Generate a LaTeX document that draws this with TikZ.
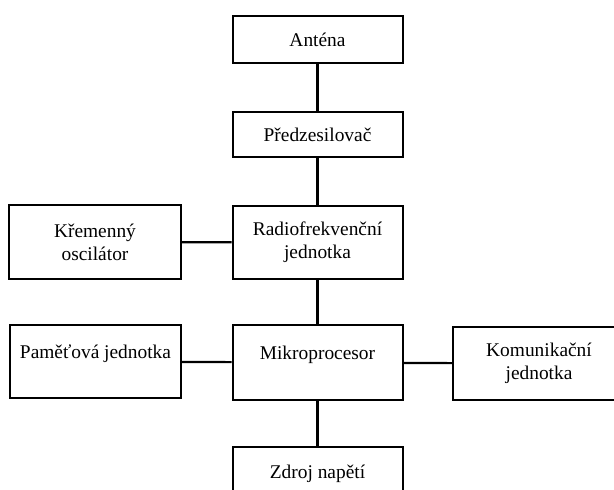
\documentclass[tikz,border=0pt]{standalone}
\usepackage{fontspec}
\setmainfont{Liberation Serif}
\begin{document}
\begin{tikzpicture}[x=0.5pt,y=-0.5pt,
	blok/.style={draw,line width=1pt,rectangle,align=center,inner sep=0pt,font=\fontsize{9.7}{11.5}\selectfont},
	horni/.style={text height=7pt,text depth=10pt},
	spoj/.style={line width=1.1pt}]
	\useasboundingbox (0,0) rectangle (614,489);
	\node[blok,minimum width=85pt,minimum height=23.5pt] (ant) at (317.5,39.5) {Anténa};
	\node[blok,minimum width=85pt,minimum height=22.5pt] (pre) at (317.5,134.5) {Předzesilovač};
	\node[blok,minimum width=85pt,minimum height=36.5pt] (rf) at (317.5,242.5) {Radiofrekvenční\\jednotka};
	\node[blok,minimum width=86pt,minimum height=37pt] (krem) at (95,242) {Křemenný\\oscilátor};
	\node[blok,horni,minimum width=85.5pt,minimum height=36.5pt] (pam) at (95.5,361.5) {Paměťová jednotka};
	\node[blok,horni,minimum width=85pt,minimum height=37.5pt] (mik) at (317.5,362.5) {Mikroprocesor};
	\node[blok,minimum width=86pt,minimum height=36.5pt] (kom) at (539,363.5) {Komunikační\\jednotka};
	\node[blok,minimum width=85pt,minimum height=27pt] (zdr) at (317.5,474) {Zdroj napětí};
	\draw[spoj] (ant) -- (pre);
	\draw[spoj] (pre) -- (rf);
	\draw[spoj] (krem) -- (rf);
	\draw[spoj] (rf) -- (mik);
	\draw[spoj] (pam) -- (mik);
	\draw[spoj] (mik) -- (kom);
	\draw[spoj] (mik) -- (zdr);
\end{tikzpicture}
\end{document}
